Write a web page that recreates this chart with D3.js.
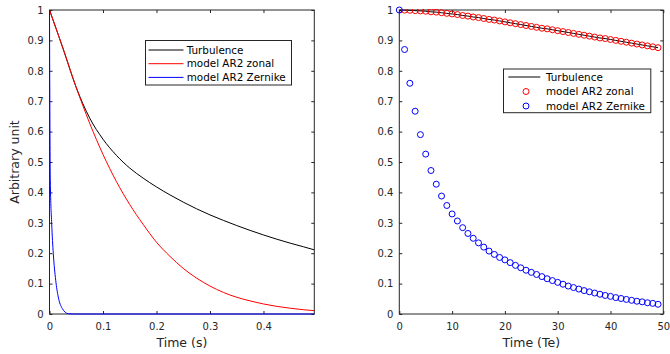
<!DOCTYPE html>
<html>
<head>
<meta charset="utf-8">
<script src="https://cdn.jsdelivr.net/npm/d3@7"></script>
<style>
  body { margin: 0; background: #fff; }
  svg { display: block; font-family: "DejaVu Sans", sans-serif; }
</style>
</head>
<body>
<svg id="chart" width="670" height="354"></svg>
<script>
/* Left panel: time in seconds */
const tSec     = [0, 0.025, 0.05, 0.075, 0.1, 0.125, 0.15, 0.175, 0.2, 0.225, 0.25,
                  0.275, 0.3, 0.325, 0.35, 0.375, 0.4, 0.425, 0.45, 0.475, 0.495];
const turbSec  = [1, 0.875, 0.745, 0.645, 0.575, 0.522, 0.48, 0.447, 0.418, 0.392, 0.368,
                  0.346, 0.326, 0.308, 0.291, 0.275, 0.26, 0.246, 0.233, 0.221, 0.211];
const zonalSec = [1, 0.875, 0.745, 0.628, 0.525, 0.436, 0.36, 0.295, 0.236, 0.19, 0.15,
                  0.118, 0.092, 0.071, 0.055, 0.043, 0.033, 0.025, 0.019, 0.014, 0.011];
const tZer     = [0, 0.0005, 0.0015, 0.0041, 0.0071, 0.0116, 0.0164, 0.0239, 0.035, 0.045, 0.1, 0.495];
const zernSec  = [1, 0.75, 0.44, 0.297, 0.199, 0.111, 0.056, 0.018, 0.001, 0, 0, 0];

/* Right panel: time in Te samples 0..49 */
const zonalTe = [1.000, 0.9995, 0.999, 0.998, 0.997, 0.996, 0.994, 0.993, 0.991, 0.989,
                 0.987, 0.985, 0.982, 0.980, 0.977, 0.975, 0.972, 0.969, 0.967, 0.964,
                 0.961, 0.958, 0.955, 0.952, 0.949, 0.946, 0.943, 0.940, 0.938, 0.935,
                 0.932, 0.929, 0.926, 0.923, 0.920, 0.917, 0.914, 0.911, 0.908, 0.906,
                 0.903, 0.900, 0.897, 0.894, 0.891, 0.888, 0.885, 0.882, 0.879, 0.876];
const zernTe  = [1.000, 0.870, 0.759, 0.667, 0.590, 0.526, 0.472, 0.427, 0.388, 0.357,
                 0.329, 0.306, 0.284, 0.265, 0.249, 0.234, 0.220, 0.207, 0.196, 0.186,
                 0.178, 0.169, 0.160, 0.152, 0.144, 0.137, 0.130, 0.123, 0.116, 0.110,
                 0.104, 0.098, 0.092, 0.087, 0.082, 0.077, 0.073, 0.069, 0.065, 0.061,
                 0.058, 0.054, 0.051, 0.048, 0.045, 0.042, 0.040, 0.037, 0.035, 0.032];
// turbulence curve in Te lies right under the zonal circles
const turbTe = zonalTe;

const yTicks = [0, 0.1, 0.2, 0.3, 0.4, 0.5, 0.6, 0.7, 0.8, 0.9, 1];
const xTicksSec = [0, 0.1, 0.2, 0.3, 0.4];
const xTicksTe = [0, 10, 20, 30, 40, 50];
const legendNames = ['Turbulence', 'model AR2 zonal', 'model AR2 Zernike'];

const AXC = '#262626';
const svg = d3.select('#chart');

function panel(x0, x1, xDomain, xTicks, fmt, xLabel, yLabel) {
  const x = d3.scaleLinear().domain(xDomain).range([x0, x1]);
  const y = d3.scaleLinear().domain([0, 1]).range([314, 10]);
  const g = svg.append('g');

  g.append('rect')
    .attr('x', x0).attr('y', 10)
    .attr('width', x1 - x0).attr('height', 304)
    .attr('fill', 'none').attr('stroke', AXC).attr('stroke-width', 1);

  const style = sel => {
    sel.select('.domain').remove();
    sel.selectAll('line').attr('stroke', AXC);
    sel.selectAll('text').attr('fill', AXC).attr('font-size', 10)
      .attr('font-family', '"DejaVu Sans", sans-serif');
  };

  g.append('g').attr('transform', 'translate(0,314)')
    .call(d3.axisBottom(x).tickValues(xTicks).tickFormat(fmt).tickSizeInner(-3).tickSizeOuter(0).tickPadding(9))
    .call(style);
  g.append('g').attr('transform', 'translate(0,10)')
    .call(d3.axisTop(x).tickValues(xTicks).tickFormat('').tickSizeInner(-3).tickSizeOuter(0))
    .call(style);
  g.append('g').attr('transform', `translate(${x0},0)`)
    .call(d3.axisLeft(y).tickValues(yTicks).tickFormat(d3.format('~g')).tickSizeInner(-3).tickSizeOuter(0).tickPadding(6))
    .call(style);
  g.append('g').attr('transform', `translate(${x1},0)`)
    .call(d3.axisRight(y).tickValues(yTicks).tickFormat('').tickSizeInner(-3).tickSizeOuter(0))
    .call(style);

  g.append('text')
    .attr('x', (x0 + x1) / 2).attr('y', 347)
    .attr('text-anchor', 'middle').attr('font-size', 12.5).attr('fill', AXC)
    .text(xLabel);

  if (yLabel) {
    g.append('text')
      .attr('transform', `translate(19,162) rotate(-90)`)
      .attr('text-anchor', 'middle').attr('font-size', 12.5).attr('fill', AXC)
      .text(yLabel);
  }

  const clip = 'clip' + Math.round(x0);
  svg.append('clipPath').attr('id', clip)
    .append('rect').attr('x', x0).attr('y', 9).attr('width', x1 - x0).attr('height', 306);
  const plot = g.append('g').attr('clip-path', `url(#${clip})`);

  return { x, y, plot };
}

/* ---- left ---- */
const L = panel(49.5, 314.3, [0, 0.495], xTicksSec, d3.format('~g'), 'Time (s)', 'Arbitrary unit');
const lineL = (xs, ys) => d3.line()
  .x((d, i) => L.x(xs[i])).y(d => L.y(d))
  .curve(d3.curveMonotoneX)(ys);

L.plot.append('path').attr('d', lineL(tSec, turbSec)).attr('fill', 'none').attr('stroke', '#000').attr('stroke-width', 1);
L.plot.append('path').attr('d', lineL(tSec, zonalSec)).attr('fill', 'none').attr('stroke', '#ff0000').attr('stroke-width', 1);
L.plot.append('path').attr('d', lineL(tZer, zernSec)).attr('fill', 'none').attr('stroke', '#0000ff').attr('stroke-width', 1);

const legL = svg.append('g');
legL.append('rect').attr('x', 145.5).attr('y', 40.5).attr('width', 146).attr('height', 44.5)
  .attr('fill', '#fff').attr('stroke', AXC).attr('stroke-width', 1);
const colsL = ['#000', '#ff0000', '#0000ff'];
legendNames.forEach((name, i) => {
  const yy = 50 + i * 13.7;
  legL.append('line').attr('x1', 148.5).attr('x2', 183.5).attr('y1', yy).attr('y2', yy)
    .attr('stroke', colsL[i]).attr('stroke-width', 1);
  legL.append('text').attr('x', 186.7).attr('y', yy).attr('dy', '0.35em')
    .attr('font-size', 10.4).attr('fill', '#000').text(name);
});

/* ---- right ---- */
const R = panel(399.3, 663.3, [0, 50], xTicksTe, d3.format('d'), 'Time (Te)', null);
const idx = d3.range(zonalTe.length);

R.plot.append('path')
  .attr('d', d3.line().x((d, i) => R.x(idx[i])).y(d => R.y(d))(turbTe))
  .attr('fill', 'none').attr('stroke', '#000').attr('stroke-width', 1);

R.plot.selectAll('.zon').data(zonalTe).enter().append('circle')
  .attr('class', 'zon')
  .attr('cx', (d, i) => R.x(idx[i])).attr('cy', d => R.y(d)).attr('r', 3)
  .attr('fill', 'none').attr('stroke', '#ff0000').attr('stroke-width', 1);

svg.selectAll('.zer').data(zernTe).enter().append('circle')
  .attr('class', 'zer')
  .attr('cx', (d, i) => R.x(idx[i])).attr('cy', d => R.y(d)).attr('r', 3)
  .attr('fill', 'none').attr('stroke', '#0000ff').attr('stroke-width', 1);

const legR = svg.append('g');
legR.append('rect').attr('x', 503.5).attr('y', 69).attr('width', 147.3).attr('height', 43.7)
  .attr('fill', '#fff').attr('stroke', AXC).attr('stroke-width', 1);
legendNames.forEach((name, i) => {
  const yy = 77 + i * 14.5;
  if (i === 0) {
    legR.append('line').attr('x1', 508.3).attr('x2', 540.3).attr('y1', yy).attr('y2', yy)
      .attr('stroke', '#000').attr('stroke-width', 1);
  } else {
    legR.append('circle').attr('cx', 526).attr('cy', yy).attr('r', 3)
      .attr('fill', 'none').attr('stroke', i === 1 ? '#ff0000' : '#0000ff').attr('stroke-width', 1);
  }
  legR.append('text').attr('x', 546).attr('y', yy).attr('dy', '0.35em')
    .attr('font-size', 10.4).attr('fill', '#000').text(name);
});
</script>
</body>
</html>
